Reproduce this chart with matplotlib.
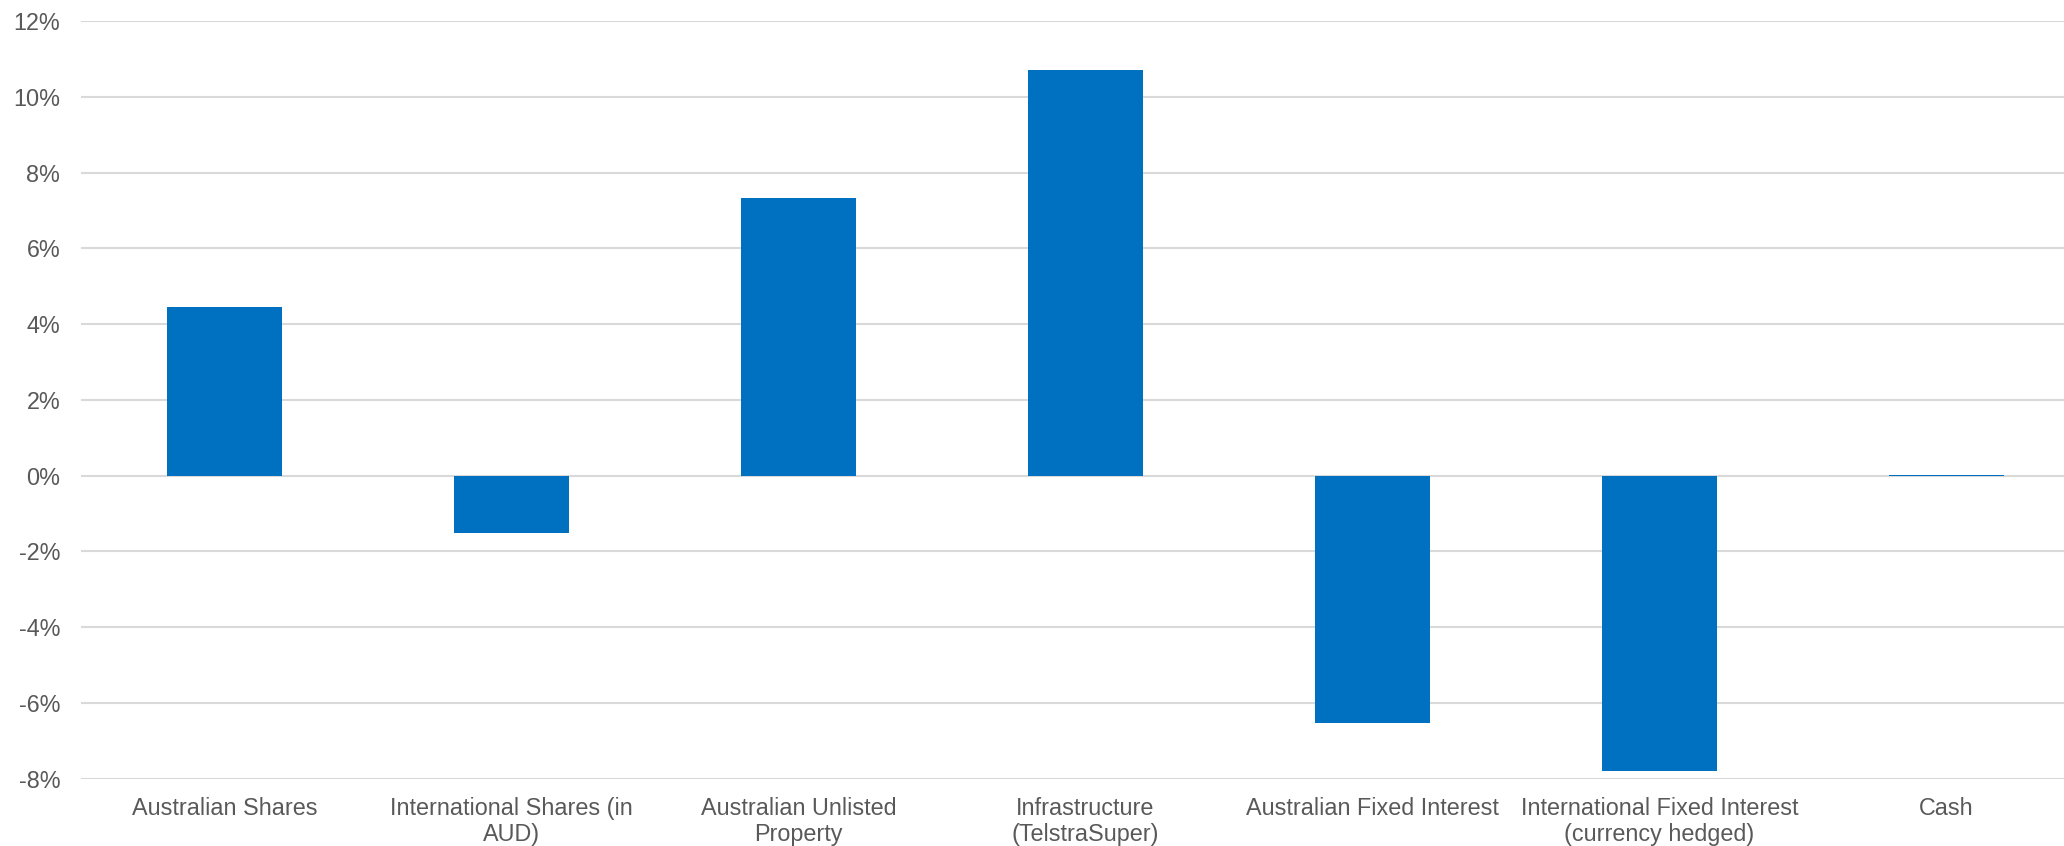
from matplotlib import pyplot
import matplotlib.ticker as ticker

categories = ['Australian Shares', 'International Shares (in\nAUD)', 'Australian Unlisted\nProperty',
              'Infrastructure\n(TelstraSuper)', 'Australian Fixed Interest',
              'International Fixed Interest\n(currency hedged)', 'Cash']
returns = [4.46, -1.52, 7.34, 10.70, -6.52, -7.80, 0.03]
y_ticks = [-8, -6, -4, -2, 0, 2, 4, 6, 8, 10, 12]

pyplot.rcParams['font.family'] = ['Liberation Sans', 'DejaVu Sans']

fig = pyplot.figure(figsize = (20.64, 8.46), dpi = 100)
ax = fig.add_axes([81/2064, 0.0794, 2009/2064, 0.8958])

ax.bar(range(len(categories)), returns, width = 0.4, color = '#0070C0', zorder = 3)

ax.set_xlim(-0.5, len(categories) - 0.5)
ax.set_ylim(-8, 12)
ax.set_yticks(y_ticks)
ax.yaxis.set_major_formatter(ticker.FuncFormatter(lambda v, p: '%d%%' % v))
ax.set_xticks(range(len(categories)))
ax.set_xticklabels(categories)

ax.grid(axis = 'y', color = '#D9D9D9', linewidth = 1.5, zorder = 0)
for s in ax.spines.values():
    s.set_visible(False)
ax.tick_params(axis = 'both', length = 0, labelsize = 16.8, labelcolor = '#595959')
ax.tick_params(axis = 'y', pad = 15)
ax.tick_params(axis = 'x', pad = 13)

fig.savefig('out.png')
